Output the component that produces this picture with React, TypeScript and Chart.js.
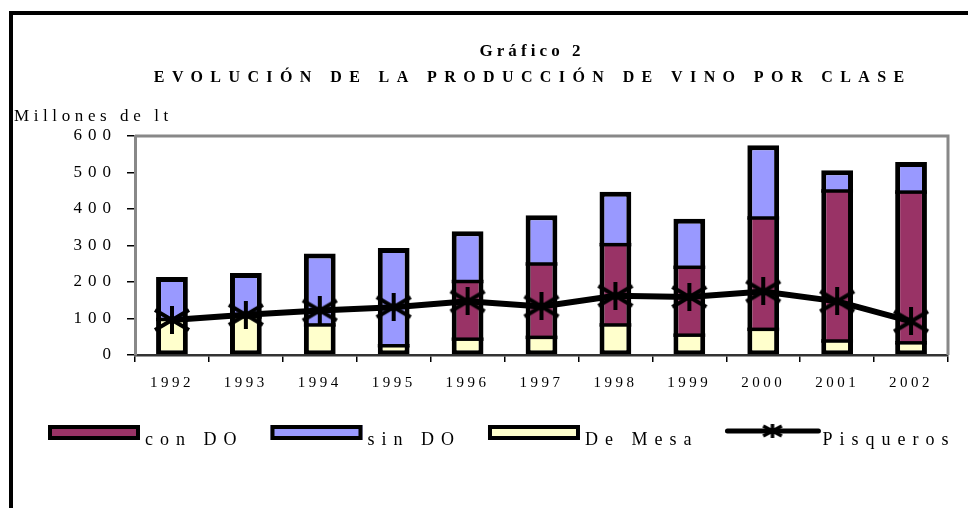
import React, { useEffect, useRef } from 'react';
import { Chart, registerables } from 'chart.js';

Chart.register(...registerables);

const years = ['1992', '1993', '1994', '1995', '1996', '1997', '1998', '1999', '2000', '2001', '2002'];
const deMesa = [98, 105, 83, 26, 44, 49, 83, 55, 71, 39, 34];
const conDO = [0, 0, 0, 0, 158, 201, 220, 186, 305, 411, 413];
const sinDO = [116, 120, 195, 267, 137, 133, 144, 132, 199, 56, 82];
const pisqueros = [96, 110, 122, 131, 147, 133, 162, 159, 174, 147, 92];
const yTicks = [0, 100, 200, 300, 400, 500, 600];

const titleLine1 = 'Gráfico 2';
const titleLine2 = 'EVOLUCIÓN DE LA PRODUCCIÓN DE VINO POR CLASE';
const yTitle = 'Millones de lt';

const FONT = '"Liberation Serif", "Times New Roman", serif';
const PURPLE = '#993366';
const BLUE = '#9999FF';
const YELLOW = '#FFFFCC';

function makeStar(w: number, h: number, lw: number) {
  const c = document.createElement('canvas');
  c.width = w;
  c.height = h;
  const g = c.getContext('2d')!;
  g.strokeStyle = '#000';
  g.lineWidth = lw;
  g.beginPath();
  g.moveTo(w / 2, 0);
  g.lineTo(w / 2, h);
  g.moveTo(lw / 2, h * 0.14);
  g.lineTo(w - lw / 2, h * 0.86);
  g.moveTo(lw / 2, h * 0.86);
  g.lineTo(w - lw / 2, h * 0.14);
  g.stroke();
  return c;
}

function spaced(ctx: CanvasRenderingContext2D, text: string, x: number, y: number, sp: number, align: string) {
  (ctx as any).letterSpacing = sp + 'px';
  const w = ctx.measureText(text).width - sp;
  let sx = x;
  if (align === 'center') sx = x - w / 2;
  else if (align === 'right') sx = x - w;
  ctx.textAlign = 'left';
  ctx.fillText(text, sx, y);
  return w;
}

function wrapLabels(scale: any, sp: number) {
  if (scale.__wrapped) return;
  const orig = scale.drawLabels.bind(scale);
  scale.drawLabels = (area: any) => {
    const ctx = scale.ctx;
    ctx.save();
    ctx.letterSpacing = sp + 'px';
    orig(area);
    ctx.restore();
  };
  scale.__wrapped = true;
}

export default function App() {
  const ref = useRef<HTMLCanvasElement>(null);

  useEffect(() => {
    const canvas = ref.current!;
    const star = makeStar(38, 28, 4);
    const smallStar = makeStar(22, 14, 3.5);

    const decor = {
      id: 'decor',
      beforeDraw(chart: any) {
        wrapLabels(chart.scales.x, 3.5);
        wrapLabels(chart.scales.y, 6);
        const ctx = chart.ctx;
        ctx.save();
        ctx.fillStyle = '#fff';
        ctx.fillRect(0, 0, chart.width, chart.height);
        ctx.fillStyle = '#000';
        ctx.fillRect(9, 11, chart.width - 9, 4);
        ctx.fillRect(9, 11, 4, chart.height - 11);
        ctx.restore();
      },
      beforeDatasetDraw(chart: any, args: any) {
        // black dividers on top edge of lower stacked segments (drawn just before the line)
        if (chart.data.datasets[args.index].type !== 'line') return;
        const ctx = chart.ctx;
        ctx.save();
        ctx.fillStyle = '#000';
        [0, 1].forEach((di) => {
          const meta = chart.getDatasetMeta(di);
          meta.data.forEach((el: any) => {
            const p = el.getProps(['x', 'y', 'base', 'width']);
            if (Math.abs(p.base - p.y) < 0.5) return;
            ctx.fillRect(p.x - p.width / 2, p.y - 1.5, p.width, 3.5);
          });
        });
        ctx.restore();
      },
      afterDraw(chart: any) {
        const ctx = chart.ctx;
        const a = chart.chartArea;
        ctx.save();
        ctx.strokeStyle = '#888';
        ctx.lineWidth = 3;
        ctx.beginPath();
        ctx.moveTo(a.left, a.top);
        ctx.lineTo(a.right, a.top);
        ctx.lineTo(a.right, a.bottom);
        ctx.stroke();

        ctx.fillStyle = '#000';
        ctx.textBaseline = 'alphabetic';
        ctx.font = `bold 17px ${FONT}`;
        spaced(ctx, titleLine1, 530, 56, 4.1, 'center');
        ctx.font = `bold 16px ${FONT}`;
        spaced(ctx, titleLine2, 529, 82, 7.4, 'center');
        ctx.font = `17px ${FONT}`;
        spaced(ctx, yTitle, 14, 121, 4.6, 'left');

        const order = [1, 2, 0, 3];
        let x = 48;
        ctx.font = `18px ${FONT}`;
        order.forEach((i) => {
          const ds = chart.data.datasets[i];
          if (ds.type === 'line') {
            ctx.strokeStyle = '#000';
            ctx.lineWidth = 5;
            ctx.lineCap = 'round';
            ctx.beginPath();
            ctx.moveTo(x + 2, 431);
            ctx.lineTo(x + 93, 431);
            ctx.stroke();
            ctx.drawImage(smallStar, x + 47 - 11, 431 - 7);
          } else {
            ctx.fillStyle = ds.backgroundColor;
            ctx.fillRect(x, 425, 92, 15);
            ctx.strokeStyle = '#000';
            ctx.lineWidth = 4;
            ctx.strokeRect(x + 2, 427, 88, 11);
          }
          ctx.fillStyle = '#000';
          const w = spaced(ctx, ds.label, x + 97, 445, 7, 'left');
          x = x + 97 + w + 34;
        });
        ctx.restore();
      },
    };

    const barCommon = {
      type: 'bar',
      borderColor: '#000',
      borderSkipped: false,
      stack: 'vino',
      order: 1,
      inflateAmount: 0,
    };

    const chart = new Chart(canvas, {
      type: 'bar',
      data: {
        labels: years,
        datasets: [
          { ...barCommon, label: 'De Mesa', data: deMesa, backgroundColor: YELLOW,
            borderWidth: { left: 5, right: 5, bottom: 4, top: 0 } } as any,
          { ...barCommon, label: 'con DO', data: conDO, backgroundColor: PURPLE,
            borderWidth: { left: 5, right: 5, bottom: 0, top: 0 } } as any,
          { ...barCommon, label: 'sin DO', data: sinDO, backgroundColor: BLUE,
            borderWidth: { left: 5, right: 5, bottom: 0, top: 5 } } as any,
          {
            type: 'line',
            label: 'Pisqueros',
            data: pisqueros,
            borderColor: '#000',
            backgroundColor: '#000',
            borderWidth: 6,
            pointStyle: star as any,
            pointRadius: 14,
            stack: 'pisco',
            order: 0,
            tension: 0,
          } as any,
        ],
      },
      options: {
        animation: false,
        responsive: false,
        events: [],
        layout: { padding: { left: 0, right: 9, top: 136, bottom: 0 } },
        plugins: {
          legend: { display: false },
          title: { display: false },
          tooltip: { enabled: false },
        },
        datasets: {
          bar: { categoryPercentage: 1, barPercentage: 0.43 },
        },
        scales: {
          x: {
            stacked: true,
            grid: { display: true, drawOnChartArea: false, offset: true, color: '#000', tickLength: 7, lineWidth: 1.5 },
            border: { display: true, color: '#333', width: 2.5 },
            ticks: { color: '#000', font: { family: FONT, size: 15 }, padding: 12, maxRotation: 0 },
            afterFit: (s: any) => { s.height = 153; },
          },
          y: {
            stacked: true,
            min: 0,
            max: 600,
            afterBuildTicks: (s: any) => { s.ticks = yTicks.map((v) => ({ value: v })); },
            grid: { display: true, drawOnChartArea: false, color: '#000', tickLength: 8, lineWidth: 1.5 },
            border: { display: true, color: '#888', width: 3 },
            ticks: { color: '#000', font: { family: FONT, size: 17 }, padding: 10 },
            afterFit: (s: any) => { s.width = 135; },
          },
        },
      },
      plugins: [decor],
    });
    return () => chart.destroy();
  }, []);

  return (
    <div style={{ position: 'absolute', left: 0, top: 0, width: 968, height: 508 }}>
      <canvas ref={ref} width={968} height={508} style={{ display: 'block' }} />
    </div>
  );
}
